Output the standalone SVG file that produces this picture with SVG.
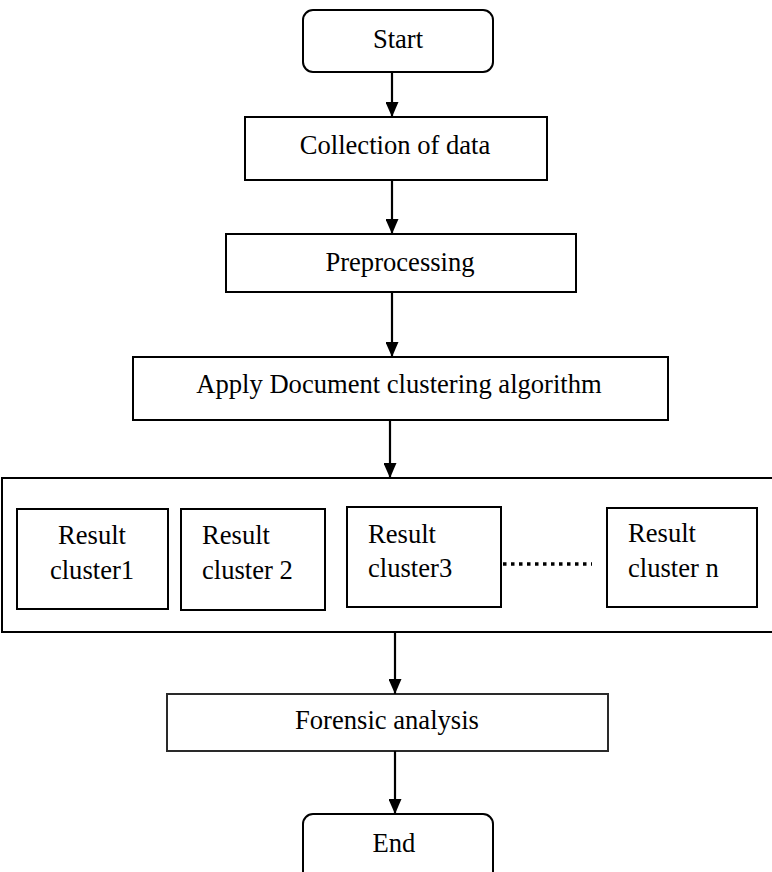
<svg xmlns="http://www.w3.org/2000/svg" width="772" height="872" viewBox="0 0 772 872">
<style>
.box{fill:#fff;stroke:#000;stroke-width:2}
.thin{fill:#fff;stroke:#2a2a2a;stroke-width:2}
.t{font-family:"Liberation Serif","Times New Roman",serif;font-size:26.6px;fill:#000}
.c{text-anchor:middle}
.conn line{stroke:#000;stroke-width:2.2}
</style>
<defs>
<marker id="arr" markerWidth="15" markerHeight="13" refX="15" refY="6.5" orient="auto" markerUnits="userSpaceOnUse" viewBox="0 0 15 13">
<path d="M0,0 L15,6.5 L0,13 Z" fill="#000"/>
</marker>
</defs>
<g id="start"><rect class="box" x="303" y="10" width="190" height="62" rx="10"/><text class="t c" x="398" y="48">Start</text></g>
<g id="collection"><rect class="box" x="245" y="117" width="302" height="63"/><text class="t c" x="395" y="154">Collection of data</text></g>
<g id="preprocessing"><rect class="box" x="226" y="234" width="350" height="58"/><text class="t c" x="400" y="271">Preprocessing</text></g>
<g id="apply"><rect class="box" x="133" y="357" width="535" height="63"/><text class="t c" x="399" y="393">Apply Document clustering algorithm</text></g>
<g id="results">
<path d="M775,478 H2 V632 H775" fill="#fff" stroke="#000" stroke-width="2"/>
<g id="cluster1"><rect class="box" x="17" y="509" width="151" height="100"/><text class="t c" x="92" y="544">Result</text><text class="t c" x="92" y="579">cluster1</text></g>
<g id="cluster2"><rect class="box" x="181" y="509" width="144" height="101"/><text class="t" x="202" y="544">Result</text><text class="t" x="202" y="579">cluster 2</text></g>
<g id="cluster3"><rect class="box" x="347" y="507" width="154" height="100"/><text class="t" x="368" y="543">Result</text><text class="t" x="368" y="577">cluster3</text></g>
<g id="clustern"><rect class="box" x="607" y="508" width="150" height="99"/><text class="t" x="628" y="542">Result</text><text class="t" x="628" y="577">cluster n</text></g>
</g>
<g id="forensic"><rect class="thin" x="167" y="694" width="441" height="57"/><text class="t c" x="387" y="729">Forensic analysis</text></g>
<g id="end"><rect class="box" x="303" y="814" width="190" height="70" rx="10"/><text class="t c" x="394" y="852">End</text></g>
<g class="conn" id="connectors">
<line x1="392" y1="72" x2="392" y2="117" marker-end="url(#arr)"/>
<line x1="392" y1="180" x2="392" y2="234" marker-end="url(#arr)"/>
<line x1="392" y1="292" x2="392" y2="357" marker-end="url(#arr)"/>
<line x1="390" y1="420" x2="390" y2="478" marker-end="url(#arr)"/>
<line x1="395" y1="632" x2="395" y2="694" marker-end="url(#arr)"/>
<line x1="395" y1="751" x2="395" y2="814" marker-end="url(#arr)"/>
<line x1="503" y1="564" x2="592" y2="564" style="stroke-width:3.5;stroke-dasharray:3.5 4.5"/>
</g>
</svg>
